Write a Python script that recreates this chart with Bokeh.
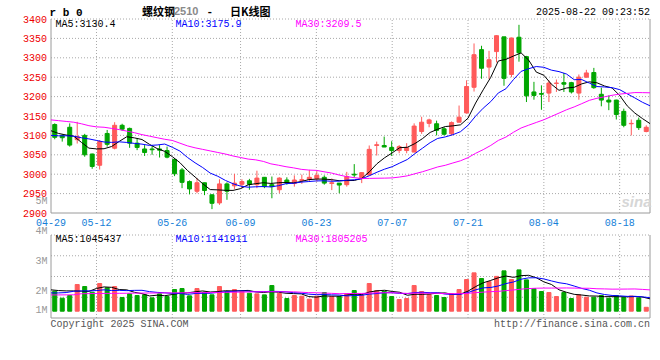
from bokeh.plotting import figure
from bokeh.models import ColumnDataSource, Range1d
from bokeh.embed import file_html
from bokeh.resources import INLINE
from bokeh.core.properties import value

# ---------------- data ----------------
dates = ["04-29", "04-30", "05-06", "05-07", "05-08", "05-09", "05-12", "05-13", "05-14", "05-15",
         "05-16", "05-19", "05-20", "05-21", "05-22", "05-23", "05-26", "05-27", "05-28", "05-29",
         "05-30", "06-03", "06-04", "06-05", "06-06", "06-09", "06-10", "06-11", "06-12", "06-13",
         "06-16", "06-17", "06-18", "06-19", "06-20", "06-23", "06-24", "06-25", "06-26", "06-27",
         "06-30", "07-01", "07-02", "07-03", "07-04", "07-07", "07-08", "07-09", "07-10", "07-11",
         "07-14", "07-15", "07-16", "07-17", "07-18", "07-21", "07-22", "07-23", "07-24", "07-25",
         "07-28", "07-29", "07-30", "07-31", "08-01", "08-04", "08-05", "08-06", "08-07", "08-08",
         "08-11", "08-12", "08-13", "08-14", "08-15", "08-18", "08-19", "08-20", "08-21", "08-22"]

opens = [3128, 3099, 3121, 3089, 3100, 3052, 3023, 3105, 3067, 3126,
         3118, 3080, 3065, 3065, 3065, 3061, 3038, 3011, 2981, 2956,
         2978, 2947, 2926, 2975, 2970, 2974, 2983, 2973, 2992, 2973,
         2960, 2985, 2976, 2984, 2987, 2989, 2992, 2976, 2977, 2973,
         3000, 2991, 2998, 3074, 3074, 3069, 3061, 3061, 3057, 3110,
         3131, 3130, 3117, 3104, 3134, 3158, 3224, 3321, 3276, 3316,
         3354, 3257, 3353, 3303, 3212, 3208, 3209, 3234, 3236, 3236,
         3209, 3250, 3262, 3206, 3191, 3191, 3162, 3130, 3139, 3110]
highs = [3131, 3103, 3131, 3135, 3104, 3053, 3088, 3114, 3134, 3130,
         3120, 3092, 3075, 3075, 3075, 3071, 3041, 3016, 2984, 2990,
         2978, 2947, 2987, 2979, 3001, 2987, 2988, 3009, 2992, 2994,
         2992, 2992, 2997, 2999, 3011, 3008, 2997, 2989, 2977, 3006,
         3026, 3005, 3074, 3084, 3097, 3085, 3075, 3080, 3131, 3148,
         3143, 3138, 3121, 3136, 3177, 3242, 3337, 3331, 3318, 3358,
         3354, 3352, 3385, 3305, 3238, 3229, 3242, 3244, 3261, 3238,
         3257, 3269, 3274, 3223, 3203, 3192, 3169, 3141, 3146, 3126]
lows = [3090, 3084, 3071, 3079, 3045, 3014, 3012, 3071, 3064, 3112,
        3068, 3062, 3047, 3050, 3043, 3041, 2995, 2964, 2948, 2951,
        2946, 2910, 2921, 2934, 2962, 2964, 2960, 2964, 2964, 2938,
        2951, 2973, 2968, 2975, 2981, 2981, 2973, 2959, 2951, 2968,
        2991, 2977, 2996, 3048, 3070, 3047, 3054, 3054, 3057, 3104,
        3121, 3100, 3100, 3100, 3134, 3156, 3213, 3246, 3245, 3288,
        3228, 3250, 3290, 3186, 3192, 3166, 3186, 3212, 3212, 3208,
        3192, 3249, 3220, 3175, 3165, 3141, 3121, 3100, 3114, 3108]
closes = [3095, 3094, 3075, 3097, 3050, 3020, 3084, 3077, 3126, 3116,
          3080, 3069, 3056, 3063, 3062, 3044, 3001, 2979, 2962, 2978,
          2958, 2925, 2975, 2956, 2977, 2981, 2974, 2990, 2968, 2968,
          2990, 2977, 2985, 2986, 2992, 2997, 2977, 2978, 2972, 2994,
          2998, 3004, 3064, 3076, 3070, 3061, 3071, 3069, 3124, 3134,
          3140, 3113, 3103, 3133, 3147, 3226, 3308, 3273, 3295, 3357,
          3247, 3351, 3313, 3202, 3203, 3206, 3235, 3235, 3232, 3212,
          3250, 3261, 3223, 3191, 3186, 3154, 3126, 3131, 3120, 3121]
volumes = [1695000, 1102000, 1328000, 2260000, 2090000, 1610000, 2345000, 1977000, 2090000, 1158000,
           1469000, 1328000, 1384000, 1130000, 1469000, 1243000, 1836000, 1921000, 1299000, 1921000,
           1610000, 1384000, 2090000, 1667000, 1836000, 1695000, 1525000, 1469000, 1384000, 2175000,
           1497000, 1073000, 1328000, 1271000, 1017000, 1271000, 1582000, 1243000, 1243000, 1469000,
           1751000, 1328000, 2345000, 1751000, 1695000, 1243000, 989000, 1073000, 2175000, 1667000,
           1412000, 1328000, 1158000, 1497000, 1836000, 2684000, 3250000, 2768000, 2514000, 2950000,
           3420000, 2684000, 3500000, 2655000, 1921000, 1667000, 1582000, 1243000, 1582000, 1073000,
           1384000, 1186000, 1186000, 1328000, 1102000, 1328000, 1158000, 1290000, 1130000, 330000]

ma5_lead = [3112, 3105, 3101, 3098]
ma10_lead = [3100, 3099, 3099, 3098, 3094, 3091, 3087, 3083, 3082]
ma30_lead = [3140, 3138, 3136, 3134, 3130, 3125, 3122, 3121, 3118, 3115,
             3111, 3107, 3102, 3098, 3094, 3090, 3087, 3080, 3073, 3068,
             3064, 3060, 3056, 3052, 3047, 3043, 3039, 3037, 3033]
vma5_lead = [1810000, 1750000, 1720000, 1720000]
vma10_lead = [1550000, 1550000, 1580000, 1690000, 1720000, 1720000, 1750000, 1810000, 1750000]
vma30_lead = [1380000, 1380000, 1385000, 1390000, 1480000, 1490000, 1500000, 1505000, 1510000, 1515000,
              1520000, 1530000, 1535000, 1540000, 1545000, 1550000, 1555000, 1560000, 1565000, 1570000,
              1575000, 1580000, 1590000, 1600000, 1610000, 1620000, 1630000, 1640000, 1645000]

label_dates = ["04-29", "05-12", "05-26", "06-09", "06-23", "07-07", "07-21", "08-04", "08-18"]
price_ticks = [2900, 2950, 3000, 3050, 3100, 3150, 3200, 3250, 3300, 3350, 3400]
vol_tick_text = ["5M", "4M", "3M", "2M", "1M"]
price_legend = ["MA5:3130.4", "MA10:3175.9", "MA30:3209.5"]
vol_legend = ["MA5:1045437", "MA10:1141911", "MA30:1805205"]
title_code = "r b 0"
title_name = "螺纹钢"
title_contract = "2510"
title_kind = "日K线图"
timestamp = "2025-08-22 09:23:52"
copyright_text = "Copyright 2025 SINA.COM"
url_text = "http://finance.sina.com.cn"
watermark = "sina"

# ---------------- helpers ----------------
def moving_avg(vals, n, lead):
    out = list(lead)
    for i in range(len(lead), len(vals)):
        out.append(sum(vals[i - n + 1:i + 1]) / n)
    return out

N = len(dates)
RED = "#ff5a5a"
GREEN = "#00a600"
GRID = "#a8a8a8"
FRAME = "#9a9a9a"
MONO = "Liberation Mono"
W, H = 652, 352

# pixel geometry of the two panels (canvas pixels)
L, R = 50.5, 649.5             # left / right frame columns
PT, PB = 18.5, 212.5           # price panel top (3400) / bottom (2900)
VT, VB = 234.5, 317.5          # volume panel top / bottom
VB0, VPX = 310.7, 11.8e-6      # volume zero row, pixels per lot
PX = (R - L) / (N - 1)
PY = (PB - PT) / (price_ticks[-1] - price_ticks[0])


def xref(px):
    return (px - L) / PX


def pref(py):
    return price_ticks[0] + (PB - py) / PY


def vref(py):
    return (VB0 - py) / VPX


xc = [(i + 0.5) * (N - 1) / N for i in range(N)]      # candle slot centres
xi = list(range(N))                                   # MA / grid positions
cols = [RED if c >= o else GREEN for o, c in zip(opens, closes)]

src = ColumnDataSource(dict(
    x=xc, o=opens, h=highs, l=lows, c=closes, v=volumes, col=cols,
    top=[max(a, b) for a, b in zip(opens, closes)],
    bot=[min(a, b) for a, b in zip(opens, closes)],
))
ma_src = ColumnDataSource(dict(
    x=xi,
    m5=moving_avg(closes, 5, ma5_lead), m10=moving_avg(closes, 10, ma10_lead),
    m30=moving_avg(closes, 30, ma30_lead),
    v5=moving_avg(volumes, 5, vma5_lead), v10=moving_avg(volumes, 10, vma10_lead),
    v30=moving_avg(volumes, 30, vma30_lead),
))
tick_idx = [dates.index(d) for d in label_dates]

p = figure(width=W, height=H, x_range=Range1d(xref(0), xref(W)),
           y_range=Range1d(pref(H), pref(0)), x_axis_type=None, y_axis_type=None,
           output_backend="svg", toolbar_location=None, min_border=0)
p.extra_y_ranges = {"vol": Range1d(vref(H), vref(0))}
p.outline_line_color = None
p.background_fill_color = "white"
p.border_fill_color = "white"


def txt(xs, ys, texts, color="black", size="10px", font=MONO, align="left", style="normal",
        yr="default"):
    p.text(x=xs, y=ys, text=texts, text_color=color, text_font_size=size,
           text_font=value(font), text_align=align, text_baseline="middle",
           text_font_style=style, y_range_name=yr)

# ---------------- price panel ----------------
inner_p = price_ticks[1:]
p.segment(x0=0, y0=inner_p, x1=N - 1, y1=inner_p, line_color=GRID, line_dash="1 2", line_width=1)
p.segment(x0=tick_idx[1:], y0=price_ticks[0], x1=tick_idx[1:], y1=price_ticks[-1],
          line_color=GRID, line_dash="1 2", line_width=1)
p.segment(x0=[0, 0, N - 1], y0=[price_ticks[0]] * 3, x1=[0, N - 1, N - 1],
          y1=[price_ticks[-1], price_ticks[0], price_ticks[-1]], line_color=FRAME, line_width=1)

txt(xref(46.5), price_ticks, [str(t) for t in price_ticks], "#ee0000", align="right")
txt(tick_idx, pref(221.5), label_dates, "#1580d8", align="center")
txt(xref(651), pref(201), [watermark], "#d6d6d6", "15px", "Liberation Sans", "right", "bold italic")

p.segment(x0="x", y0="l", x1="x", y1="h", color="col", line_width=1, source=src)
p.vbar(x="x", width=0.53, top="top", bottom="bot", fill_color="col", line_color="col",
       line_width=1, source=src)
p.line("x", "m5", color="black", line_width=1, source=ma_src)
p.line("x", "m10", color="#0000ff", line_width=1, source=ma_src)
p.line("x", "m30", color="#ff00ff", line_width=1, source=ma_src)

txt(xref(55), pref(24), [price_legend[0]], "black")
txt(xref(175), pref(24), [price_legend[1]], "#0000ff")
txt(xref(295), pref(24), [price_legend[2]], "#ff00ff")

# ---------------- header ----------------
txt(xref(49), pref(12.3), [title_code], "black", "11px", MONO, style="bold")
txt(xref(141.5), pref(10.5), [title_name], "black", "11px", "Noto Sans CJK SC", style="bold")
txt(xref(173.5), pref(10.5), [title_contract], "#8a8a8a", "11px", "Liberation Sans", style="bold")
txt(xref(206), pref(10.5), ["-"], "black", "11px", MONO, style="bold")
txt(xref(229.5), pref(10.5), [title_kind], "black", "11px", "Noto Sans CJK SC", style="bold")
txt(xref(649.5), pref(12), [timestamp], "black", "10px", MONO, align="right")

# ---------------- volume panel ----------------
vtop, vbot = vref(VT), vref(VB)
vgrid = [vbot + k * (vtop - vbot) / 4 for k in (1, 2, 3, 4)]
p.segment(x0=0, y0=vgrid, x1=N - 1, y1=vgrid, line_color=GRID, line_dash="1 2", line_width=1,
          y_range_name="vol")
p.segment(x0=tick_idx[1:], y0=vbot, x1=tick_idx[1:], y1=vtop, line_color=GRID, line_dash="1 2",
          line_width=1, y_range_name="vol")
p.segment(x0=[0, 0, N - 1], y0=[vbot] * 3, x1=[0, N - 1, N - 1], y1=[vtop, vbot, vtop],
          line_color=FRAME, line_width=1, y_range_name="vol")

vol_tick_pos = [vref(200.5), vref(230.7), vref(260.7), vref(290.7), vref(310.3)]
txt(xref(47), vol_tick_pos, vol_tick_text, "#999999", align="right", yr="vol")

p.vbar(x="x", width=0.53, top="v", bottom=0, fill_color="col", line_color="col",
       line_width=1, source=src, y_range_name="vol")
p.line("x", "v5", color="black", line_width=1, source=ma_src, y_range_name="vol")
p.line("x", "v10", color="#0000ff", line_width=1, source=ma_src, y_range_name="vol")
p.line("x", "v30", color="#ff00ff", line_width=1, source=ma_src, y_range_name="vol")

txt(xref(55), pref(238.5), [vol_legend[0]], "black")
txt(xref(175), pref(238.5), [vol_legend[1]], "#0000ff")
txt(xref(295), pref(238.5), [vol_legend[2]], "#ff00ff")
txt(xref(50), pref(324), [copyright_text], "#555555")
txt(xref(649.5), pref(324), [url_text], "#555555", align="right")

open("out.html", "w").write(file_html(p, INLINE))
